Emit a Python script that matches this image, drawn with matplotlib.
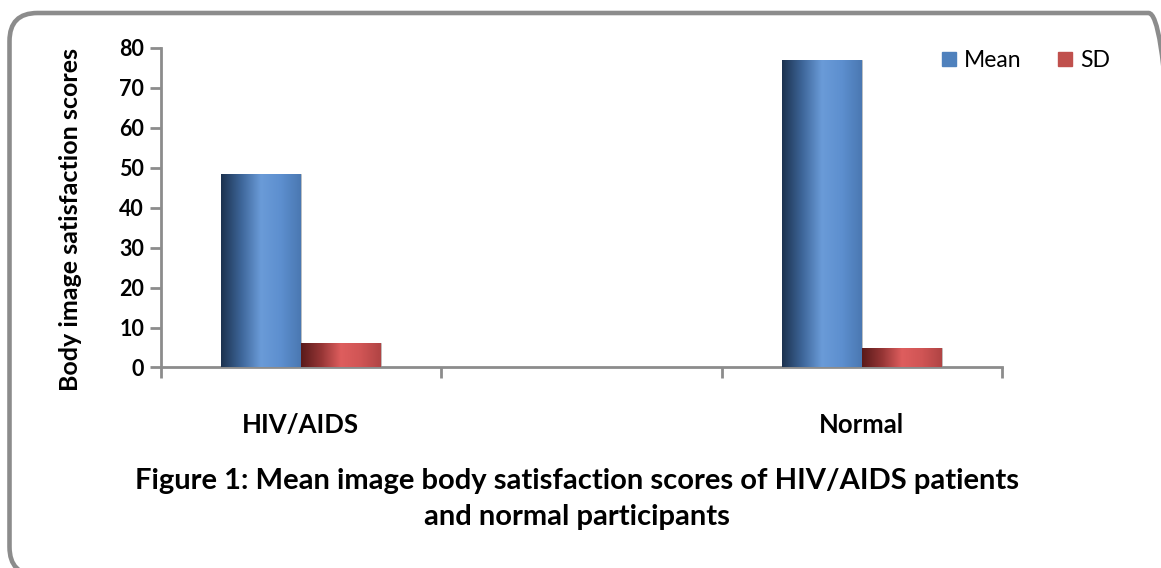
import numpy as np
import matplotlib.pyplot as plt
from matplotlib.colors import LinearSegmentedColormap
from matplotlib.patches import FancyBboxPatch, Patch

categories = ["HIV/AIDS", "", "Normal"]
mean_vals = [48.5, np.nan, 76.9]
sd_vals = [6.2, np.nan, 4.8]
series = ["Mean", "SD"]
y_ticks = [0, 10, 20, 30, 40, 50, 60, 70, 80]

plt.rcParams['font.family'] = ['Lato', 'DejaVu Sans']

fig = plt.figure(figsize=(11.61, 5.68), dpi=100)
fig.patch.set_facecolor('white')

# rounded frame around the whole figure (inches)
frame = FancyBboxPatch((0.095, -0.07), 11.67, 5.62,
                       boxstyle="round,pad=0,rounding_size=0.28",
                       transform=fig.dpi_scale_trans, facecolor='none',
                       edgecolor='#8c8c8c', linewidth=3.3, clip_on=False)
fig.patches.append(frame)

ax = fig.add_axes([0.1384, 0.353, 0.7246, 0.563])

x = np.arange(len(categories))
w = 0.285
b1 = ax.bar(x - w / 2, mean_vals, w, color='#4F81BD', label=series[0], zorder=2)
b2 = ax.bar(x + w / 2, sd_vals, w, color='#C0504D', label=series[1], zorder=2)

# cylinder-like shading on each bar
blue_cm = LinearSegmentedColormap.from_list(
    'b', ['#1c324f', '#3d6598', '#6a9bd8', '#5d8fcf', '#4a78b2'])
red_cm = LinearSegmentedColormap.from_list(
    'r', ['#5a1a1a', '#953535', '#de5e5e', '#d05555', '#b04444'])
grad = np.linspace(0, 1, 256).reshape(1, -1)
for bars, cm in ((b1, blue_cm), (b2, red_cm)):
    for p in bars:
        h = p.get_height()
        if np.isnan(h):
            continue
        x0 = p.get_x()
        im = ax.imshow(grad, cmap=cm, aspect='auto', zorder=3,
                       extent=(x0, x0 + p.get_width(), 0, h))
        im.set_clip_path(p)
        p.set_edgecolor('#bfbfbf')
        p.set_linewidth(0.6)

ax.set_xlim(-0.5, 2.5)
ax.set_ylim(0, 80)
ax.set_yticks(y_ticks)
ax.set_xticks([-0.5, 0.5, 1.5, 2.5])
ax.set_xticklabels([])
ax.set_xticks(x, minor=True)
ax.set_xticklabels(categories, minor=True, fontsize=18.5, fontweight='bold')
ax.tick_params(axis='x', which='minor', length=0, pad=33)
ax.tick_params(axis='x', which='major', length=8, width=2, color='#8c8c8c')
ax.tick_params(axis='y', length=8, width=2, color='#8c8c8c', labelsize=15.5, pad=4)
for lab in ax.get_yticklabels():
    lab.set_fontweight('bold')

for s in ('top', 'right'):
    ax.spines[s].set_visible(False)
for s in ('left', 'bottom'):
    ax.spines[s].set_color('#8c8c8c')
    ax.spines[s].set_linewidth(2)

ax.set_ylabel('Body image satisfaction scores', fontsize=18, fontweight='bold')
ax.yaxis.set_label_coords(-0.093, 0.464)

handles = [Patch(color='#4F81BD', label=series[0]), Patch(color='#C0504D', label=series[1])]
fig.legend(handles=handles, loc='upper left', bbox_to_anchor=(933 / 1161, 1 - 41 / 568),
           ncol=2, frameon=False, fontsize=16.5, handlelength=0.6, handleheight=0.6,
           handletextpad=0.35, columnspacing=1.6, borderaxespad=0)

fig.text(0.497, 1 - 499 / 568,
         'Figure 1: Mean image body satisfaction scores of HIV/AIDS patients\nand normal participants',
         ha='center', va='center', fontsize=21, fontweight='bold', linespacing=1.5)

fig.savefig('out.png', dpi=100)
